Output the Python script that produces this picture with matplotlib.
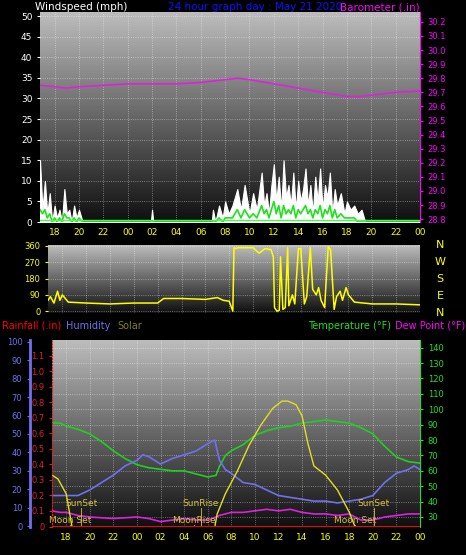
import numpy as np
import matplotlib
matplotlib.use("Agg")
import matplotlib.pyplot as plt
from matplotlib.colors import LinearSegmentedColormap

# ---- data (hours since midnight of day 1; 24 = 00 next day) ----
tick_hours = [18, 20, 22, 24, 26, 28, 30, 32, 34, 36, 38, 40, 42, 44, 46, 48]
tick_labels = ["18", "20", "22", "00", "02", "04", "06", "08", "10", "12", "14", "16", "18", "20", "22", "00"]

baro_t = [16.8, 18, 19, 20, 22, 24, 26, 28, 30, 32, 33, 34, 36, 38, 40, 42, 43, 44, 46, 48]
baro_v = [29.75, 29.74, 29.73, 29.74, 29.75, 29.76, 29.76, 29.76, 29.77, 29.79, 29.8, 29.79, 29.76, 29.73, 29.7, 29.67, 29.67, 29.68, 29.7, 29.71]

wind_t = [16.8, 17.0, 17.2, 17.4, 17.6, 17.8, 18.0, 18.2, 18.4, 18.6, 18.8, 19.0, 19.2, 19.4, 19.6, 19.8, 20.0, 20.3, 21.0, 25.9,
          26.0, 26.1, 26.2, 30.9, 31.0, 31.2, 31.5, 31.8, 32.0, 32.3, 32.6, 33.0, 33.3, 33.6, 34.0, 34.3, 34.6, 35.0, 35.2, 35.4,
          35.6, 35.8, 36.0, 36.2, 36.4, 36.6, 36.8, 37.0, 37.2, 37.4, 37.6, 37.8, 38.0, 38.2, 38.4, 38.6, 38.8, 39.0, 39.2, 39.4,
          39.6, 39.8, 40.0, 40.2, 40.4, 40.6, 40.8, 41.0, 41.2, 41.5, 41.8, 42.0, 42.3, 42.6, 42.9, 43.2, 43.5, 48.0]
gust_v = [15, 3, 10, 2, 7, 0, 4, 1, 3, 0, 8, 2, 3, 0, 4, 1, 3, 0, 0, 0,
          3, 0, 0, 0, 3, 0, 4, 1, 5, 2, 4, 8, 3, 9, 2, 7, 3, 12, 4, 7,
          2, 9, 14, 5, 11, 3, 15, 6, 9, 4, 12, 3, 10, 5, 8, 13, 4, 9, 2, 11,
          5, 13, 3, 9, 6, 12, 2, 8, 4, 7, 2, 5, 3, 4, 2, 3, 0, 0]
avg_v = [3, 2, 3, 1, 2, 0, 1, 0, 1, 0, 2, 1, 1, 0, 1, 0, 1, 0, 0, 0,
         0, 0, 0, 0, 0, 0, 1, 0, 1, 1, 1, 3, 1, 3, 1, 2, 1, 4, 2, 3,
         1, 3, 5, 2, 4, 1, 4, 2, 3, 2, 4, 1, 3, 2, 3, 4, 2, 3, 1, 3,
         2, 4, 1, 3, 2, 4, 1, 3, 1, 2, 1, 1, 1, 1, 0, 0, 0, 0]

dir_t = [16.8, 17.0, 17.3, 17.6, 17.8, 18.0, 18.5, 20, 22, 24, 26, 26.5, 28, 30, 31.0, 31.5, 32.0, 32.3, 32.4, 32.6, 32.7,
         33.0, 34, 34.5, 35.0, 35.5, 35.7, 35.8, 35.9, 36.0, 36.2, 36.3, 36.5, 36.7, 36.9, 37.0, 37.3, 37.5, 37.8,
         38.0, 38.3, 38.5, 38.8, 39.0, 39.3, 39.5, 39.7, 40.0, 40.3, 40.5, 40.8, 41.0, 41.3, 41.5, 41.8, 42.0, 42.5, 44, 46, 48]
dir_v = [60, 80, 45, 110, 60, 90, 50, 45, 40, 45, 45, 70, 70, 65, 75, 60, 55, 0, 350, 345, 350,
         350, 350, 320, 345, 340, 300, 20, 10, 0, 5, 300, 10, 20, 350, 30, 90, 40, 345,
         345, 40, 80, 350, 120, 90, 130, 60, 20, 355, 340, 10, 80, 110, 60, 130, 90, 50, 40, 40, 35]

hum_t = [16.8, 17.5, 19, 20, 21, 22, 23, 24, 24.5, 25, 26, 27, 28, 29, 30, 30.6, 31, 31.5, 32, 33, 34, 35, 36, 37, 38, 39, 40, 41, 42, 43, 44, 45, 46, 47, 47.5, 48]
hum_v = [17, 17, 17, 20, 24, 28, 33, 36, 39, 38, 34, 37, 39, 41, 45, 47, 36, 31, 29, 24, 23, 20, 17, 16, 15, 14, 14, 13, 14, 15, 17, 24, 29, 31, 33, 31]

temp_t = [16.8, 17.5, 18, 19, 20, 21, 22, 23, 24, 25, 26, 27, 28, 29, 30, 30.7, 31, 31.5, 32, 33, 34, 35, 36, 37, 38, 39, 40, 41, 42, 43, 44, 45, 46, 47, 48]
temp_v = [91, 91, 89, 87, 84, 79, 73, 68, 64, 62, 61, 60, 60, 58, 56, 57, 63, 70, 73, 77, 83, 86, 88, 89, 91, 92, 93, 92, 91, 88, 84, 76, 69, 66, 65]

dew_t = [16.8, 17.5, 18, 19, 20, 22, 24, 25, 26, 27, 28, 29, 30, 30.7, 31, 32, 33, 34, 35, 36, 37, 38, 39, 40, 41, 42, 42.5, 43, 44, 45, 46, 47, 48]
dew_v = [34, 33, 33, 31, 30, 29, 30, 29, 27, 28, 29, 28, 28, 30, 31, 33, 33, 34, 35, 34, 35, 33, 32, 32, 31, 32, 30, 28, 28, 30, 31, 32, 32]

solar_t = [16.8, 17.3, 18.0, 18.5, 30.6, 30.8, 31.5, 32.5, 33.5, 34.5, 35.5, 36.3, 36.8, 37.5, 38.0, 38.5, 39.0, 40.0, 41.0, 42.0, 42.5, 48]
solar_v = [28, 26, 18, 0, 0, 7, 18, 30, 44, 55, 64, 68, 68, 66, 60, 45, 33, 28, 20, 8, 0, 0]

rain_t = [16.8, 48]
rain_v = [0, 0]

events = [("SunSet", 19.3, 10), ("SunRise", 29.4, 10), ("SunSet", 44.1, 10),
          ("Moon Set", 18.3, 1), ("MoonRise", 28.8, 1), ("Moon Set", 42.5, 1)]

# ---- figure ----
W, H = 466, 555
fig = plt.figure(figsize=(W / 100, H / 100), dpi=100, facecolor="black")
plt.rcParams["font.family"] = ["DejaVu Sans"]
grad = LinearSegmentedColormap.from_list("g", ["#101010", "#bcbcbc"])

def ax_at(x0, y0, x1, y1):
    return fig.add_axes([x0 / W, 1 - y1 / H, (x1 - x0) / W, (y1 - y0) / H])

def style(ax, xr=(16.8, 48)):
    ax.set_facecolor("black")
    ax.imshow(np.linspace(1, 0, 100).reshape(-1, 1), aspect="auto", cmap=grad,
              extent=[xr[0], xr[1], 0, 1], transform=ax.get_xaxis_transform(), zorder=0)
    ax.set_xlim(*xr)
    ax.set_xticks(tick_hours)
    ax.grid(True, color="white", linestyle=":", linewidth=0.6, alpha=0.5)
    for s in ax.spines.values():
        s.set_visible(False)

fs = 6.5
# top panel
ax1 = ax_at(40, 12, 420, 222)
style(ax1)
ax1.set_ylim(0, 51)
ax1.set_yticks(range(0, 51, 5))
ax1.tick_params(axis="y", colors="white", labelsize=fs, length=2)
ax1.tick_params(axis="x", colors="yellow", labelsize=fs, length=0, pad=4)
ax1.set_xticklabels(tick_labels)
ax1.fill_between(wind_t, gust_v, color="white", linewidth=0.8, zorder=2)
ax1.plot(wind_t, avg_v, color="#20e020", linewidth=1.2, zorder=3)
ax1.axhline(0.4, color="#40ff40", linewidth=1, zorder=3)
ax1b = ax1.twinx()
ax1b.set_ylim(28.78, 30.27)
ax1b.set_yticks(np.round(np.arange(28.8, 30.21, 0.1), 1))
ax1b.tick_params(axis="y", colors="magenta", labelsize=fs - 0.5, length=2)
for s in ax1b.spines.values():
    s.set_visible(False)
ax1b.spines["right"].set_visible(True); ax1b.spines["right"].set_color("magenta")
ax1b.plot(baro_t, baro_v, color="#e020e0", linewidth=1.2)
fig.text(35 / W, 1 - 7 / H, "Windspeed (mph)", color="white", fontsize=7.5, va="center")
fig.text(255 / W, 1 - 7 / H, "24 hour graph day : May 21 2020", color="#1010ff", fontsize=7.5, va="center", ha="center")
fig.text(420 / W, 1 - 7 / H, "Barometer (.in)", color="magenta", fontsize=7.5, va="center", ha="right")

# middle panel
ax2 = ax_at(48, 245, 420, 313)
style(ax2)
ax2.set_ylim(-10, 365)
ax2.set_yticks([0, 90, 180, 270, 360])
ax2.tick_params(axis="y", colors="yellow", labelsize=fs - 0.5, length=2)
ax2.tick_params(axis="x", length=0, labelbottom=False)
ax2.plot(dir_t, dir_v, color="yellow", linewidth=1.1)
for i, c in enumerate("NWSEN"):
    fig.text(440 / W, 1 - (245 + i * 17) / H, c, color="yellow", fontsize=8, ha="center", va="center")

# bottom panel
ax3 = ax_at(52, 340, 420, 527)
style(ax3)
ax3.set_ylim(23.5, 145)
ax3.set_yticks(range(30, 141, 10))
ax3.tick_params(axis="x", colors="yellow", labelsize=fs, length=0, pad=4)
ax3.set_xticklabels(tick_labels)
ax3.plot(temp_t, temp_v, color="#20d020", linewidth=1.2, zorder=3)
ax3.plot(dew_t, dew_v, color="#e020e0", linewidth=1.2, zorder=3)

axh = ax3.twinx()
axh.set_ylim(0, 101)
for s in axh.spines.values():
    s.set_visible(False)
axh.set_yticks([])
axh.plot(hum_t, hum_v, color="#7070f0", linewidth=1.2, zorder=3)
axh.plot(solar_t, solar_v, color="#e0e020", linewidth=1.0, zorder=3)

axrain = ax3.twinx()
axrain.set_ylim(-0.003, 1.2)
axrain.set_yticks([])
for s in axrain.spines.values():
    s.set_visible(False)
axrain.plot(rain_t, rain_v, color="red", linewidth=1.5, zorder=4)
axrain.axhline(0.0, color="orange", linewidth=1, zorder=3)

# temperature ticks on the right (after twinx calls)
ax3.yaxis.tick_right()
ax3.tick_params(axis="y", colors="#20e020", labelsize=fs - 0.5, length=2, labelleft=False, left=False)
ax3.spines["right"].set_visible(True); ax3.spines["right"].set_color("#20e020")

# humidity axis (outer left)
axhum = fig.add_axes([30 / W, 1 - 527 / H, 0.001, 187 / H])
axhum.set_ylim(-0.5, 101)
axhum.set_xticks([])
axhum.set_yticks(range(0, 101, 10))
axhum.tick_params(axis="y", colors="#7070f0", labelsize=fs - 0.5, length=2)
for s in axhum.spines.values():
    s.set_visible(False)
axhum.spines["left"].set_visible(True); axhum.spines["left"].set_color("#7070f0"); axhum.spines["left"].set_linewidth(2)
axhum.patch.set_alpha(0)

# rainfall axis (inner left)
axr = fig.add_axes([52 / W, 1 - 527 / H, 0.001, 187 / H])
axr.set_ylim(-0.003, 1.2)
axr.set_xticks([])
axr.set_yticks(np.round(np.arange(0, 1.11, 0.1), 1))
axr.set_yticklabels(["0"] + [f"{v:.1f}" for v in np.arange(0.1, 1.11, 0.1)])
axr.tick_params(axis="y", colors="#e02020", labelsize=fs - 0.5, length=2)
for s in axr.spines.values():
    s.set_visible(False)
axr.spines["left"].set_visible(True); axr.spines["left"].set_color("#e02020"); axr.spines["left"].set_linestyle(":")
axr.patch.set_alpha(0)

for name, x, y in events:
    axh.text(x, y, name, color="#d8c040", fontsize=6.5, ha="center", va="bottom", zorder=5)
    axh.plot([x, x], [0, y], color="#d8c040", linewidth=0.6, zorder=4)

fig.text(2 / W, 1 - 326 / H, "Rainfall (.in)", color="red", fontsize=7, va="center")
fig.text(66 / W, 1 - 326 / H, "Humidity", color="#7070f0", fontsize=7, va="center")
fig.text(117 / W, 1 - 326 / H, "Solar", color="#808020", fontsize=7, va="center")
fig.text(308 / W, 1 - 326 / H, "Temperature (°F)", color="#20e020", fontsize=7, va="center")
fig.text(465 / W, 1 - 326 / H, "Dew Point (°F)", color="magenta", fontsize=7, va="center", ha="right")

fig.savefig("out.png", dpi=100, facecolor="black")
